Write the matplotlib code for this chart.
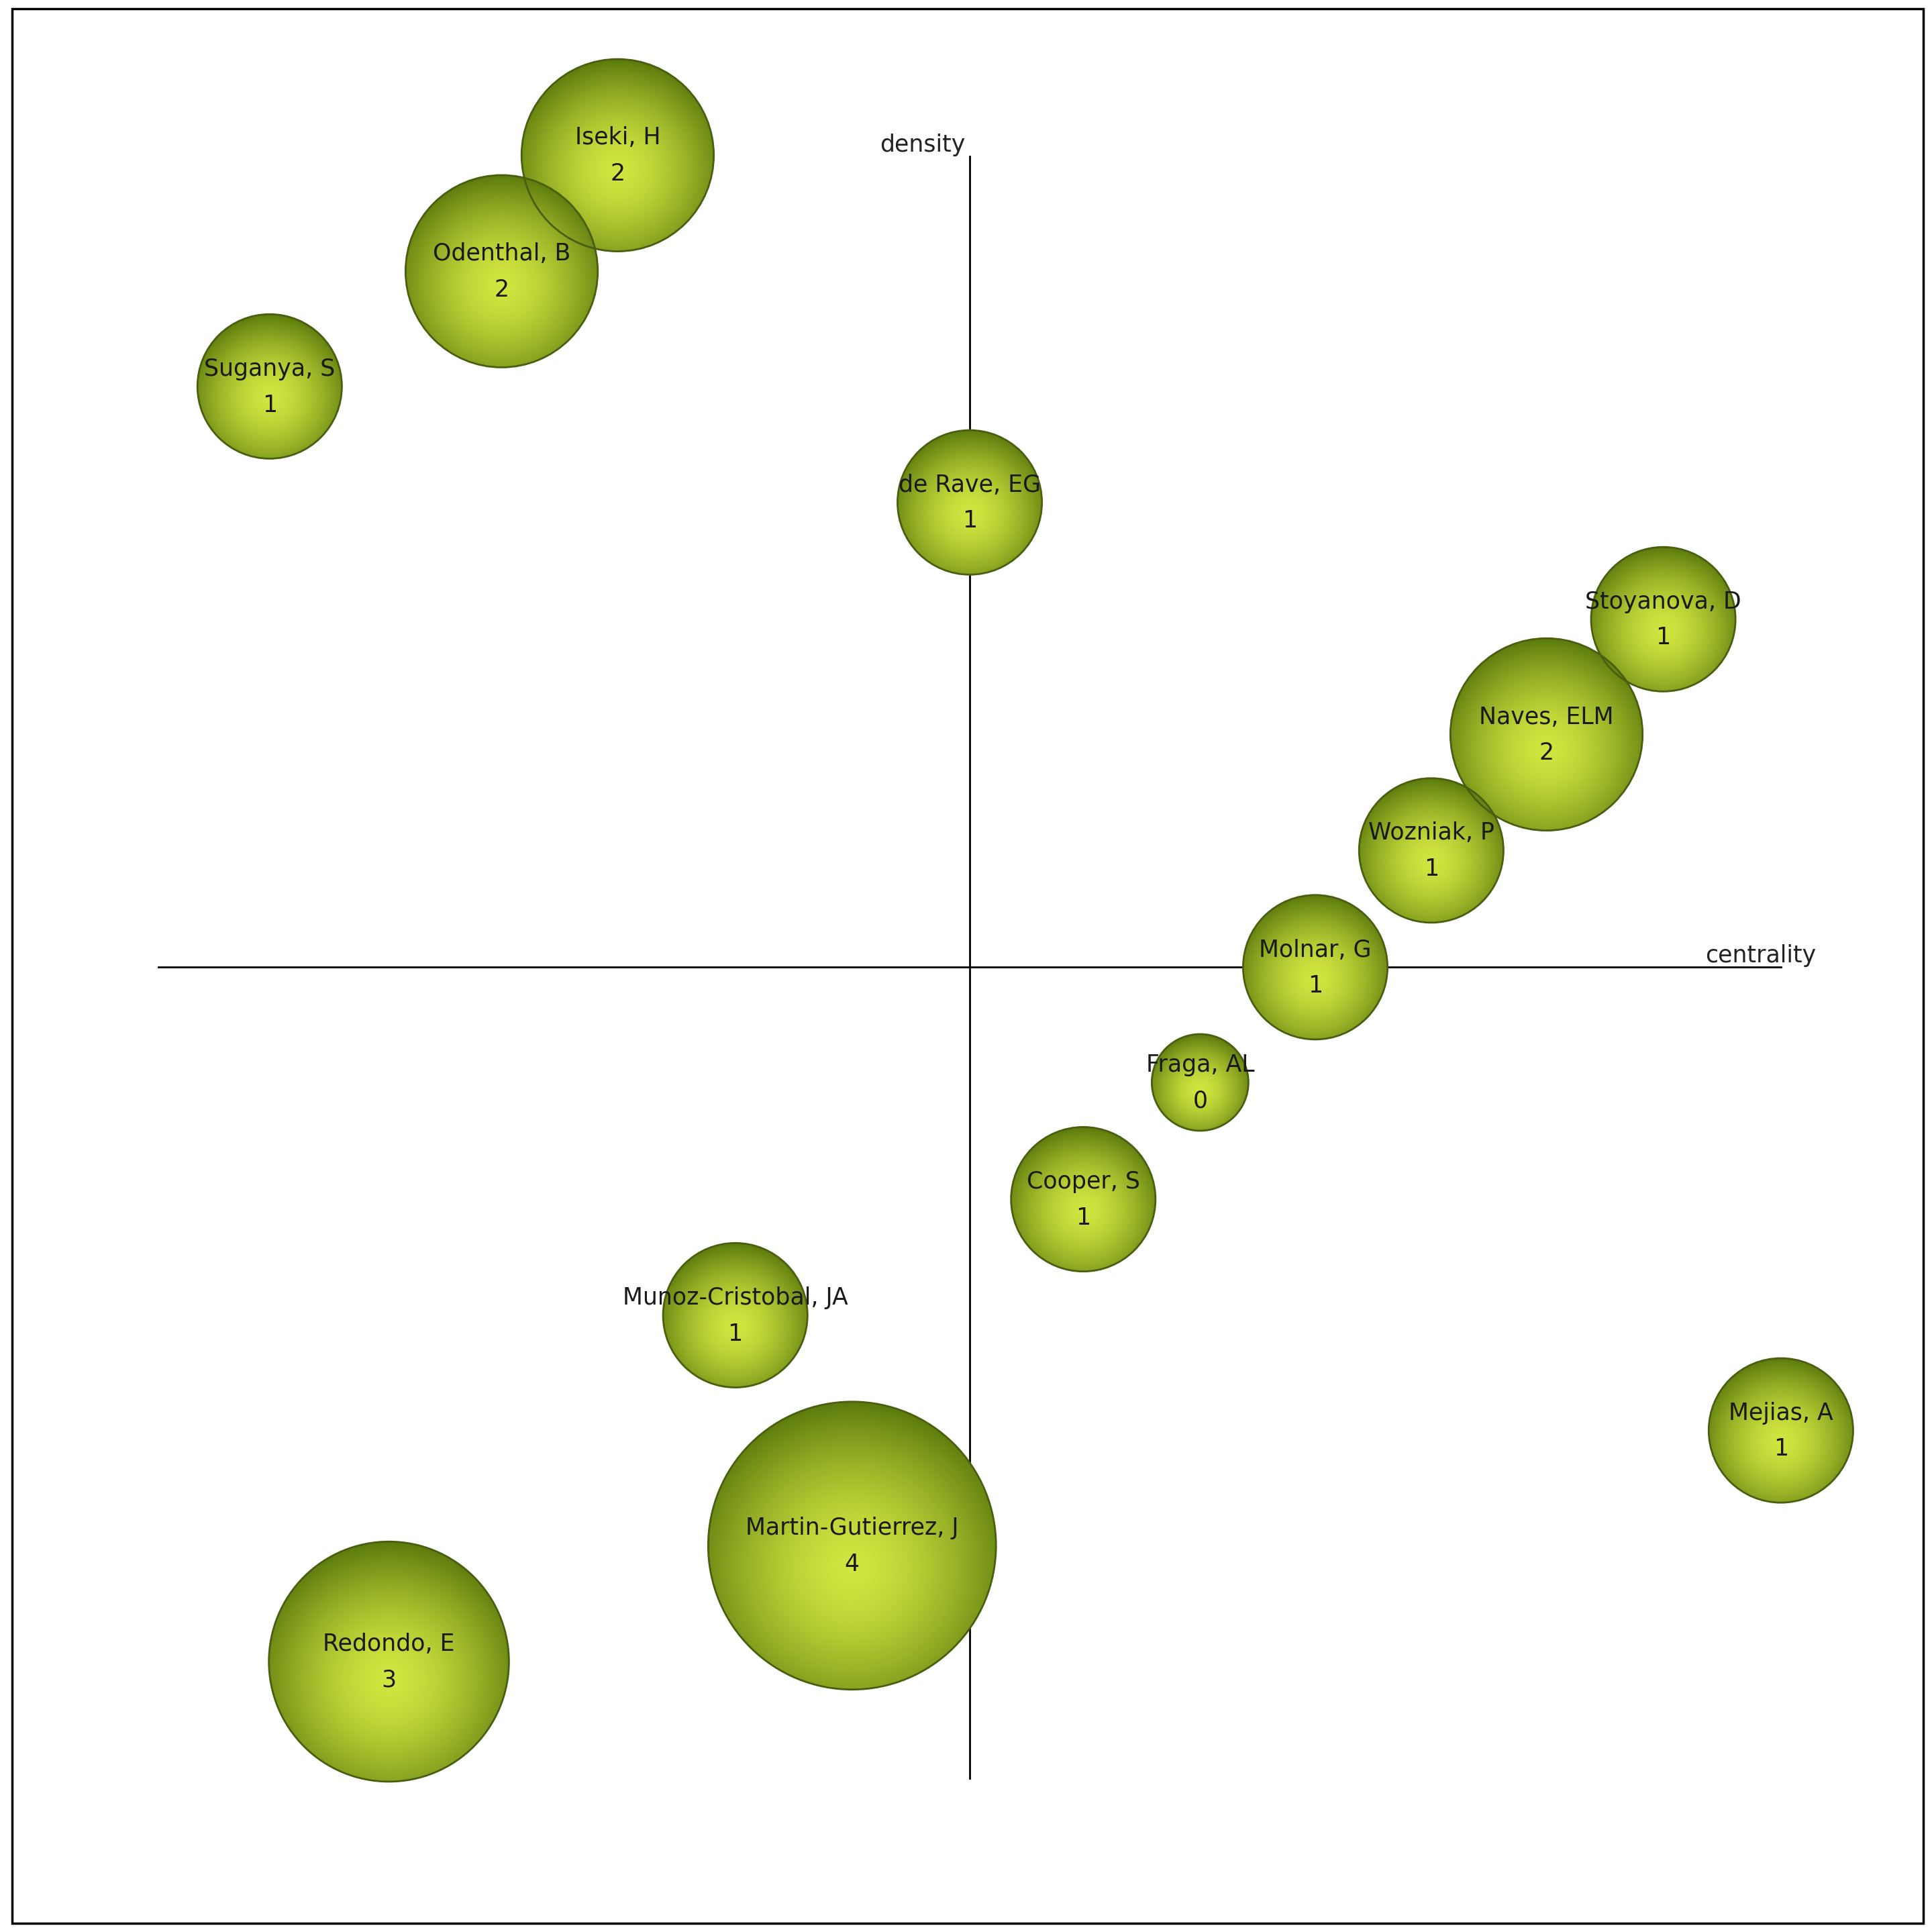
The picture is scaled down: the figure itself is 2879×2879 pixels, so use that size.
import numpy as np
import matplotlib
matplotlib.use("Agg")
import matplotlib.pyplot as plt
from matplotlib.patches import Circle, Rectangle

names = ["Iseki, H", "Odenthal, B", "Suganya, S", "de Rave, EG", "Stoyanova, D",
         "Naves, ELM", "Wozniak, P", "Molnar, G", "Fraga, AL", "Cooper, S",
         "Munoz-Cristobal, JA", "Mejias, A", "Martin-Gutierrez, J", "Redondo, E"]
centrality = [-0.434, -0.577, -0.863, 0.000, 0.855, 0.711, 0.569, 0.426, 0.284,
              0.140, -0.289, 1.000, -0.145, -0.716]
density = [1.001, 0.858, 0.716, 0.573, 0.429, 0.287, 0.144, 0.000, -0.142,
           -0.286, -0.429, -0.571, -0.713, -0.856]
counts = [2, 2, 1, 1, 1, 2, 1, 1, 0, 1, 1, 1, 4, 3]

S = 655.0  # display px per data unit
fig = plt.figure(figsize=(28.79, 28.79), dpi=100)
ax = fig.add_axes([0, 0, 1, 1])
ax.set_xlim(-783 / S, (1560 - 783) / S)
ax.set_ylim(-(1560 - 781) / S, 781 / S)
ax.set_aspect("equal")
ax.axis("off")

fig.patches.append(Rectangle((10 / 1560, 7 / 1560), 1543 / 1560, 1546 / 1560,
                             transform=fig.transFigure, fill=False, lw=2.5,
                             edgecolor="black"))

ax.plot([-1, 1], [0, 0], color="black", lw=2, zorder=1)
ax.plot([0, 0], [-1, 1], color="black", lw=2, zorder=1)
ax.text(-0.005, 1.0, "density", ha="right", va="bottom", fontsize=25, color="#222222")
ax.text(0.975, 0.0, "centrality", ha="center", va="bottom", fontsize=25, color="#222222")

# gradient image
n = 300
yy, xx = np.mgrid[-1:1:n * 1j, -1:1:n * 1j]
d = np.sqrt((xx + 0.0) ** 2 + (yy - 0.15) ** 2)
d = np.clip(d / 1.15, 0, 1)
c_in = np.array([0.82, 0.90, 0.25])
c_out = np.array([0.36, 0.48, 0.05])
t = d[..., None] ** 1.6
img = c_in * (1 - t) + c_out * t

for nm, cx, cy, k in zip(names, centrality, density, counts):
    r = (39 + 19.3 * k) / S
    circ = Circle((cx, cy), r, facecolor="none", edgecolor="#4a5e10", lw=2, zorder=3)
    ax.add_patch(circ)
    im = ax.imshow(img, extent=[cx - r, cx + r, cy - r, cy + r], origin="upper",
                   zorder=2, interpolation="bilinear")
    im.set_clip_path(circ)
    ax.text(cx, cy + 14 / S, nm, ha="center", va="center", fontsize=25,
            color="#1a1a1a", zorder=4)
    ax.text(cx, cy - 15 / S, str(k), ha="center", va="center", fontsize=25,
            color="#1a1a1a", zorder=4)

ax.set_xlim(-783 / S, (1560 - 783) / S)
ax.set_ylim(-(1560 - 781) / S, 781 / S)
fig.savefig("out.png", dpi=100, facecolor="white")
